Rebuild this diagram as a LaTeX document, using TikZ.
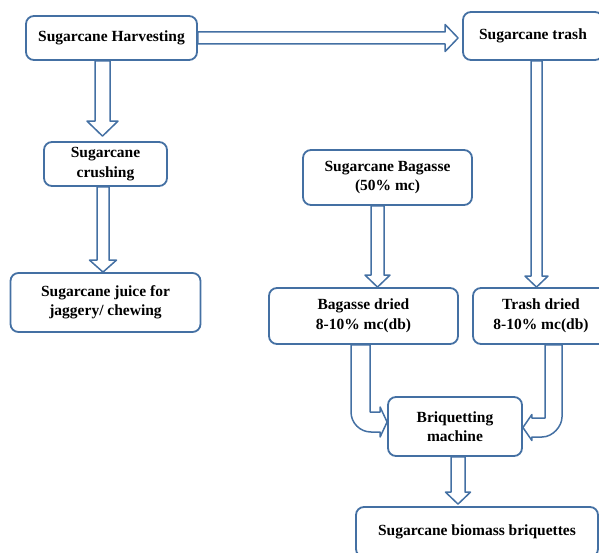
\documentclass[tikz,border=0pt]{standalone}
\usepackage{fontspec}
\setmainfont{Liberation Serif}
\usetikzlibrary{calc}
\definecolor{boxblue}{RGB}{68,112,163}
\begin{document}
\begin{tikzpicture}[x=1pt,y=-1pt,line join=round,
	font=\fontsize{15.5}{19.5}\selectfont\bfseries,
	box/.style={draw=boxblue,line width=1.8pt,rounded corners=8pt,fill=white,align=center,inner sep=2pt},
	block/.style={draw=boxblue,line width=1.5pt,fill=white},
	hollow/.style args={#1/#2/#3}{to path={
		($(\tikztotarget)!#3!(\tikztostart)$) coordinate (hb)
		($(\tikztostart)!#1!90:(\tikztotarget)$)
		-- ($(hb)!#1!90:(\tikztotarget)$)
		-- ($(hb)!#2!90:(\tikztotarget)$)
		-- (\tikztotarget)
		-- ($(hb)!#2!-90:(\tikztotarget)$)
		-- ($(hb)!#1!-90:(\tikztotarget)$)
		-- ($(\tikztostart)!#1!-90:(\tikztotarget)$)
		-- cycle}}]
	\useasboundingbox (0,0) rectangle (599,553);
	\node[box,minimum width=171pt,minimum height=44pt] (harv) at (111.5,38) {Sugarcane Harvesting};
	\node[box,minimum width=140pt,minimum height=48pt] (trash) at (533,36) {Sugarcane trash};
	\node[box,minimum width=123pt,minimum height=44pt] (crush) at (105.5,164) {Sugarcane\\crushing};
	\node[box,minimum width=190pt,minimum height=59pt] (juice) at (105.5,302.5) {Sugarcane juice for\\jaggery/ chewing};
	\node[box,minimum width=169pt,minimum height=55pt] (bag) at (387.5,177.5) {Sugarcane Bagasse\\(50\% mc)};
	\node[box,minimum width=189pt,minimum height=56pt] (bagd) at (363.5,316) {Bagasse dried\\8-10\% mc(db)};
	\node[box,minimum width=136pt,minimum height=56pt] (trashd) at (541,316) {Trash dried\\8-10\% mc(db)};
	\node[box,minimum width=134pt,minimum height=59pt] (briq) at (455,426.5) {Briquetting\\machine};
	\node[box,minimum width=242pt,minimum height=50pt] (bio) at (477,532) {Sugarcane biomass briquettes};
	% straight block arrows
	\draw[block] ([xshift=-9pt]harv.south) to[hollow=7.5pt/15.5pt/15pt] ([xshift=-3pt,yshift=5pt]crush.north);
	\draw[block] (harv.east) to[hollow=6pt/13.5pt/13pt] ($(trash.west |- harv.east)+(-4,0)$);
	\draw[block] ([xshift=-2.5pt]crush.south) to[hollow=6pt/13.5pt/12pt] ([xshift=-2.5pt]juice.north);
	\draw[block] ([xshift=-10pt]bag.south) to[hollow=6.5pt/12.5pt/12pt] ([xshift=14pt]bagd.north);
	\draw[block] ([xshift=3.5pt]trash.south) to[hollow=5.5pt/11.5pt/11pt] ([xshift=-4.5pt]trashd.north);
	\draw[block] ([xshift=3pt]briq.south) to[hollow=7pt/12.5pt/12pt] ([xshift=-19pt,yshift=2pt]bio.north);
	% bent arrows into the machine
	\path ([xshift=6.5pt]bagd.south) coordinate (bi)
		([xshift=-12.5pt]bagd.south) coordinate (bo)
		([yshift=4.5pt]briq.west) coordinate (bt)
		([xshift=4pt]trashd.south) coordinate (ti)
		([xshift=21pt]trashd.south) coordinate (tro)
		([yshift=-1pt]briq.east) coordinate (tt);
	\draw[block] (bi) -- ($(bi |- bt)+(0,-10)$) -- ($(bt)+(-7,-10)$) -- ($(bt)+(-7,-15)$) -- (bt)
		-- ($(bt)+(-7,15)$) -- ($(bt)+(-7,10)$) -- ($(bo |- bt)+(20,10)$)
		.. controls ($(bo |- bt)+(9,10)$) and ($(bo |- bt)+(0,1)$) .. ($(bo |- bt)+(0,-10)$) -- (bo) -- cycle;
	\draw[block] (ti) -- ($(ti |- tt)+(0,-9.5)$) -- ($(tt)+(9,-9.5)$) -- ($(tt)+(9,-13)$) -- (tt)
		-- ($(tt)+(9,13)$) -- ($(tt)+(9,9.5)$) -- ($(tro |- tt)+(-20,9.5)$)
		.. controls ($(tro |- tt)+(-9,9.5)$) and ($(tro |- tt)+(0,-1.5)$) .. ($(tro |- tt)+(0,-10.5)$) -- (tro) -- cycle;
\end{tikzpicture}
\end{document}
